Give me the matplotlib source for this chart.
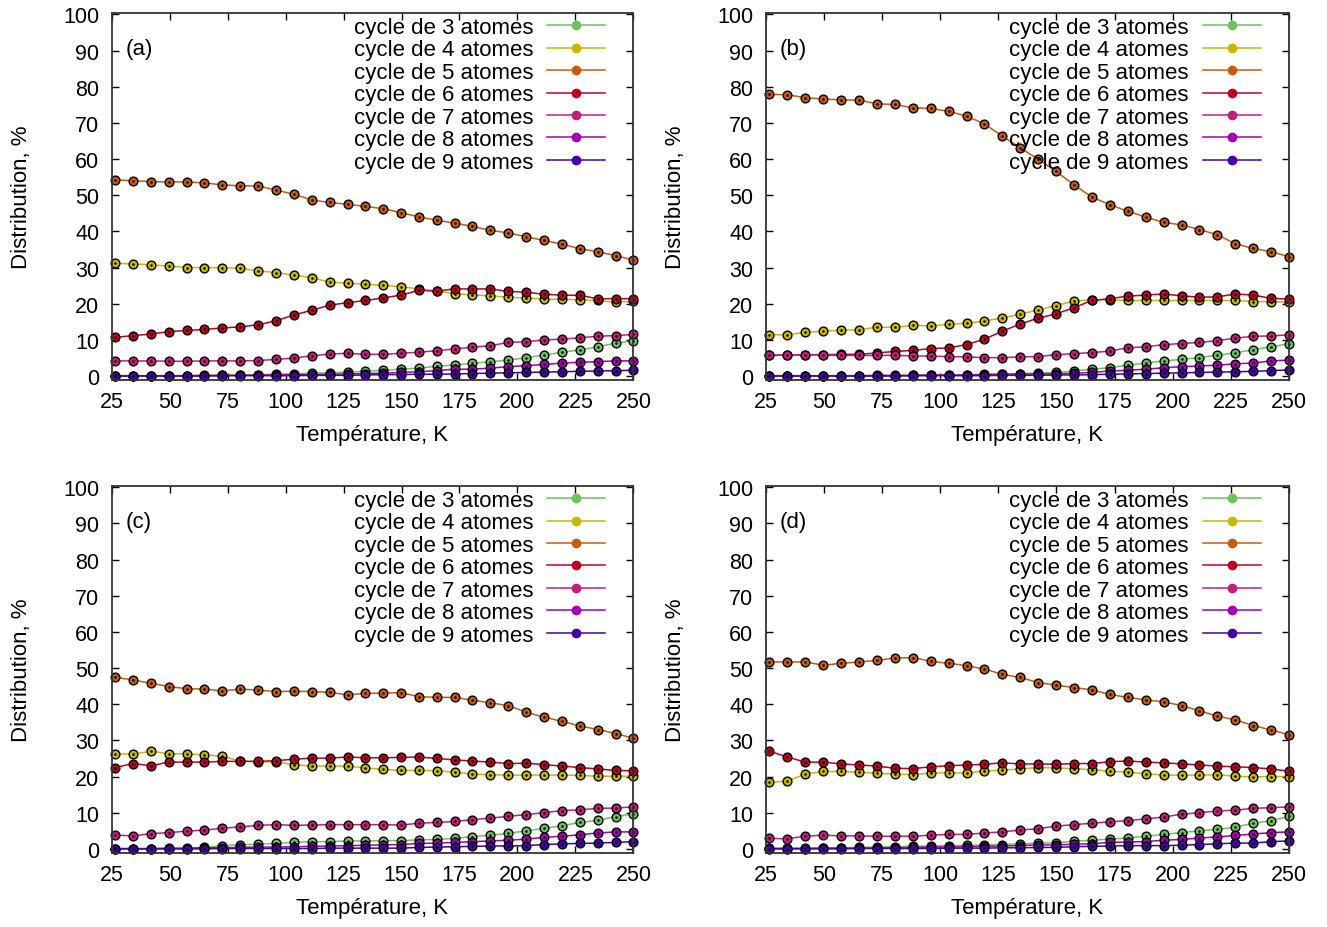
import numpy as np
import matplotlib.pyplot as plt
from matplotlib.lines import Line2D

plt.rcParams['font.family'] = ['Liberation Sans', 'DejaVu Sans']

# temperatures (K), same grid for the four panels
T = [26.5, 34.2, 41.9, 49.6, 57.3, 65.0, 72.7, 80.4, 88.2, 95.9,
     103.6, 111.3, 119.0, 126.7, 134.4, 142.1, 149.8, 157.5, 165.2, 172.9,
     180.6, 188.3, 196.1, 203.8, 211.5, 219.2, 226.9, 234.6, 242.3, 250.0]
# panel (d) has one more point below 25 K (clipped by the axis)
T_lead_d = 18.8

labels = ["cycle de %d atomes" % n for n in range(3, 10)]
colors = ["#6ec25c", "#c8b800", "#c85a10", "#c00020", "#c41e7a", "#a400b0", "#4400a8"]

# panel (a)
a3 = [0.1, 0.1, 0.1, 0.1, 0.1, 0.1, 0.2, 0.2, 0.4, 0.5, 0.6, 0.8, 0.9, 1.1, 1.3,
      1.6, 1.9, 2.2, 2.7, 3.1, 3.5, 4.0, 4.4, 5.1, 5.8, 6.6, 7.2, 8.1, 9.1, 9.7]
a4 = [31.2, 31.0, 30.8, 30.4, 30.0, 30.0, 30.0, 29.8, 29.1, 28.6, 27.9, 27.2, 26.0, 25.7, 25.4,
      25.1, 24.7, 24.1, 23.5, 22.8, 22.4, 22.2, 21.8, 21.6, 21.3, 21.2, 21.1, 20.9, 20.4, 20.7]
a5 = [54.3, 54.0, 53.8, 53.7, 53.7, 53.4, 52.9, 52.6, 52.6, 51.4, 50.3, 48.7, 48.0, 47.5, 46.9,
      46.3, 45.2, 44.0, 43.1, 42.3, 41.4, 40.3, 39.6, 38.5, 37.5, 36.5, 35.2, 34.4, 33.3, 32.1]
a6 = [10.7, 11.2, 11.6, 12.3, 12.6, 12.9, 13.3, 13.6, 14.2, 15.3, 16.9, 18.2, 19.6, 20.3, 20.9,
      21.6, 22.4, 23.7, 23.5, 24.1, 24.1, 24.1, 23.4, 23.2, 22.6, 22.4, 22.3, 21.4, 21.4, 21.4]
a7 = [4.2, 4.2, 4.2, 4.1, 4.1, 4.2, 4.2, 4.2, 4.3, 4.6, 5.0, 5.6, 6.1, 6.3, 6.0,
      6.0, 6.3, 6.6, 7.0, 7.5, 8.0, 8.4, 9.3, 9.5, 10.0, 10.2, 10.6, 11.0, 11.2, 11.5]
a8 = [0.1, 0.1, 0.1, 0.1, 0.1, 0.2, 0.2, 0.2, 0.3, 0.3, 0.4, 0.4, 0.5, 0.6, 0.7,
      0.8, 1.0, 1.2, 1.5, 1.9, 1.9, 2.2, 2.6, 2.9, 3.2, 3.6, 3.8, 4.0, 4.2, 4.2]
a9 = [0.0, 0.0, 0.0, 0.0, 0.0, 0.0, 0.1, 0.1, 0.1, 0.1, 0.1, 0.2, 0.2, 0.2, 0.3,
      0.4, 0.4, 0.5, 0.5, 0.6, 0.7, 0.8, 0.9, 1.0, 1.1, 1.2, 1.3, 1.4, 1.5, 1.6]

# panel (b)
b3 = [0.1, 0.1, 0.1, 0.1, 0.1, 0.1, 0.1, 0.1, 0.2, 0.2, 0.3, 0.4, 0.5, 0.6, 0.7,
      0.8, 1.0, 1.4, 1.9, 2.3, 3.0, 3.6, 4.2, 4.6, 5.1, 5.8, 6.4, 7.3, 8.1, 8.9]
b4 = [11.4, 11.4, 12.1, 12.4, 12.7, 12.8, 13.5, 13.5, 14.0, 13.9, 14.3, 14.6, 15.2, 16.1, 17.1,
      18.3, 19.5, 20.7, 21.1, 21.1, 20.9, 20.9, 20.9, 20.9, 20.9, 20.9, 20.9, 20.6, 20.6, 20.4]
b5 = [77.9, 77.8, 77.0, 76.6, 76.4, 76.3, 75.3, 75.1, 74.2, 74.0, 73.2, 71.9, 69.7, 66.4, 63.1,
      60.0, 56.6, 52.9, 49.5, 47.4, 45.6, 44.0, 42.5, 41.8, 40.5, 39.1, 36.6, 35.3, 34.4, 33.0]
b6 = [5.8, 5.8, 5.9, 5.9, 6.0, 6.0, 6.4, 6.8, 7.1, 7.6, 7.8, 8.7, 10.2, 12.4, 14.4,
      16.0, 17.2, 18.9, 20.9, 21.4, 22.1, 22.4, 22.7, 22.2, 21.8, 21.9, 22.7, 22.4, 21.5, 21.3]
b7 = [5.8, 5.8, 5.9, 5.8, 5.7, 5.7, 5.7, 5.7, 5.6, 5.5, 5.4, 5.3, 5.1, 5.1, 5.3,
      5.4, 5.9, 6.2, 6.5, 6.9, 7.8, 8.1, 8.7, 9.0, 9.3, 9.8, 10.5, 11.0, 11.1, 11.4]
b8 = [0.1, 0.1, 0.1, 0.1, 0.1, 0.1, 0.2, 0.2, 0.2, 0.3, 0.3, 0.3, 0.4, 0.5, 0.5,
      0.6, 0.6, 0.8, 1.0, 1.4, 1.6, 1.9, 2.3, 2.6, 2.8, 3.0, 3.4, 3.6, 4.2, 4.4]
b9 = [0.0, 0.0, 0.0, 0.0, 0.0, 0.0, 0.0, 0.0, 0.1, 0.1, 0.1, 0.1, 0.1, 0.2, 0.2,
      0.2, 0.3, 0.3, 0.4, 0.5, 0.6, 0.7, 0.8, 0.9, 1.0, 1.1, 1.2, 1.3, 1.5, 1.7]

# panel (c)
c3 = [0.0, 0.0, 0.0, 0.1, 0.1, 0.4, 0.9, 1.1, 1.3, 1.5, 1.8, 2.0, 2.0, 2.2, 2.2,
      2.3, 2.3, 2.5, 2.6, 2.9, 3.4, 3.8, 4.3, 5.0, 5.7, 6.4, 7.3, 7.9, 8.9, 9.7]
c4 = [26.3, 26.2, 27.0, 26.3, 26.3, 26.0, 25.6, 24.3, 24.1, 24.0, 23.3, 22.9, 22.9, 22.9, 22.4,
      22.0, 21.7, 21.7, 21.6, 21.2, 20.7, 20.5, 20.4, 20.4, 20.4, 20.4, 20.3, 20.1, 20.1, 20.1]
c5 = [47.5, 46.7, 45.8, 44.9, 44.3, 44.2, 43.7, 44.2, 43.9, 43.5, 43.6, 43.5, 43.3, 42.6, 43.0,
      43.1, 43.2, 42.1, 41.9, 41.9, 41.1, 40.4, 39.6, 37.8, 36.4, 35.3, 34.0, 33.0, 31.9, 30.6]
c6 = [22.5, 23.6, 23.0, 24.0, 24.0, 24.0, 24.2, 24.2, 24.2, 24.4, 24.8, 25.1, 25.1, 25.4, 25.2,
      25.2, 25.3, 25.4, 25.0, 24.6, 24.3, 24.0, 23.6, 23.7, 23.3, 22.9, 22.5, 22.1, 21.7, 21.6]
c7 = [3.8, 3.6, 4.2, 4.5, 4.9, 5.2, 5.7, 6.1, 6.5, 6.7, 6.5, 6.6, 6.7, 6.7, 6.7,
      6.7, 6.6, 7.1, 7.3, 7.6, 8.1, 8.5, 9.0, 9.5, 10.0, 10.6, 10.8, 11.2, 11.3, 11.6]
c8 = [0.1, 0.1, 0.1, 0.2, 0.2, 0.3, 0.3, 0.4, 0.5, 0.5, 0.6, 0.7, 0.8, 0.9, 1.0,
      1.1, 1.2, 1.5, 1.6, 1.8, 2.0, 2.2, 2.4, 2.7, 3.2, 3.5, 3.9, 4.4, 4.7, 4.7]
c9 = [0.0, 0.0, 0.0, 0.0, 0.0, 0.0, 0.1, 0.1, 0.1, 0.1, 0.1, 0.1, 0.2, 0.2, 0.2,
      0.2, 0.2, 0.4, 0.5, 0.6, 0.7, 0.8, 0.8, 0.9, 1.2, 1.4, 1.5, 1.6, 1.8, 2.0]

# panel (d)
d3 = [0.2, 0.2, 0.2, 0.3, 0.3, 0.4, 0.5, 0.6, 0.7, 0.8, 0.9, 1.0, 1.1, 1.2, 1.4,
      1.6, 1.7, 2.1, 2.4, 2.7, 3.0, 3.5, 4.0, 4.5, 5.0, 5.4, 6.0, 7.1, 7.8, 9.0]
d4 = [18.4, 18.7, 20.7, 21.4, 21.4, 21.2, 20.9, 20.7, 20.5, 21.0, 21.0, 21.0, 21.5, 21.8, 22.1,
      22.5, 22.4, 22.2, 21.9, 21.5, 21.2, 20.8, 20.4, 20.4, 20.4, 20.5, 20.1, 19.9, 20.0, 20.0]
d5 = [51.7, 51.7, 51.7, 50.8, 51.3, 51.7, 52.1, 52.8, 52.9, 51.9, 51.3, 50.7, 49.7, 48.3, 47.4,
      46.0, 45.3, 44.6, 44.0, 42.7, 41.9, 41.2, 40.7, 39.6, 38.2, 36.7, 35.7, 34.1, 32.9, 31.6]
d6 = [27.0, 25.4, 24.0, 24.0, 23.5, 23.2, 22.9, 22.3, 22.2, 22.7, 23.0, 23.2, 23.4, 23.8, 23.5,
      23.5, 23.4, 23.6, 23.6, 24.1, 24.3, 24.0, 23.8, 23.5, 23.2, 22.9, 22.7, 22.5, 22.1, 21.5]
d7 = [2.9, 2.8, 3.5, 3.8, 3.6, 3.6, 3.5, 3.5, 3.5, 3.8, 4.0, 4.0, 4.4, 4.7, 5.2,
      5.6, 6.3, 6.7, 7.1, 7.5, 7.8, 8.3, 8.8, 9.6, 10.0, 10.5, 10.7, 11.2, 11.4, 11.6]
d8 = [0.1, 0.1, 0.1, 0.2, 0.2, 0.2, 0.3, 0.3, 0.4, 0.5, 0.5, 0.6, 0.7, 0.8, 0.9,
      1.1, 1.1, 1.3, 1.4, 1.8, 1.9, 2.0, 2.4, 2.6, 3.0, 3.3, 3.7, 4.1, 4.5, 4.7]
d9 = [0.0, 0.0, 0.0, 0.0, 0.0, 0.1, 0.1, 0.1, 0.1, 0.1, 0.2, 0.2, 0.2, 0.3, 0.3,
      0.4, 0.4, 0.6, 0.7, 0.8, 0.9, 0.9, 0.9, 1.0, 1.2, 1.4, 1.6, 1.6, 2.0, 2.2]
# values at T_lead_d for the seven cycles of panel (d)
d_lead = [0.2, 27.9, 40.3, 29.7, 2.9, 0.1, 0.0]

panels = [
    ("(a)", [a3, a4, a5, a6, a7, a8, a9], None),
    ("(b)", [b3, b4, b5, b6, b7, b8, b9], None),
    ("(c)", [c3, c4, c5, c6, c7, c8, c9], None),
    ("(d)", [d3, d4, d5, d6, d7, d8, d9], d_lead),
]

fig = plt.figure(figsize=(13.27, 9.28), dpi=100)

# axes boxes in figure fractions (left, bottom, width, height)
boxes = [
    (0.0842, 0.5894, 0.3931, 0.3955),
    (0.5772, 0.5894, 0.3941, 0.3955),
    (0.0842, 0.0799, 0.3931, 0.3955),
    (0.5772, 0.0799, 0.3941, 0.3955),
]

handles = [Line2D([], [], color=c, lw=1.1, marker="o", ms=6, mec=c) for c in colors]

for (tag, series, lead), box in zip(panels, boxes):
    ax = fig.add_axes(box)
    for i, y in enumerate(series):
        # the line (with the extra low-T point when there is one)
        if lead is None:
            ax.plot(T, y, color=colors[i], lw=1.1, zorder=2 + i)
        else:
            ax.plot([T_lead_d] + T, [lead[i]] + y, color=colors[i], lw=1.1, zorder=2 + i)
        # gnuplot-like points: filled circle, black rim, black dot in the middle
        ax.plot(T, y, ls="none", marker="o", ms=6.3, mfc=colors[i], mec="black",
                mew=1.0, clip_on=False, zorder=2 + i)
        ax.plot(T, y, ls="none", marker=".", ms=1.6, color="black",
                clip_on=False, zorder=2 + i)

    ax.set_xlim(25, 250)
    ax.set_ylim(-1.1, 100.4)
    ax.set_xticks(np.arange(25, 251, 25))
    ax.set_yticks(np.arange(0, 101, 10))
    ax.tick_params(direction="in", top=True, right=True, length=5, width=1,
                   labelsize=15.5, colors="black")
    ax.tick_params(axis="x", pad=8)
    ax.tick_params(axis="y", pad=9)
    for s in ax.spines.values():
        s.set_linewidth(1.3)
        s.set_color("#333333")
        s.set_zorder(20)

    ax.set_xlabel("Température, K", fontsize=16)
    ax.set_ylabel("Distribution, %", fontsize=16)
    ax.xaxis.set_label_coords(0.5, -0.12)
    ax.yaxis.set_label_coords(-0.153, 0.5)

    ax.text(0.026, 0.902, tag, transform=ax.transAxes, fontsize=16,
            ha="left", va="center")

    ax.legend(handles, labels, loc="upper right", bbox_to_anchor=(0.9458, 0.989),
              markerfirst=False, frameon=False, fontsize=16, handlelength=2.6,
              handletextpad=0.63, labelspacing=0.065, borderpad=0, borderaxespad=0)

fig.savefig("out.png", dpi=100)
